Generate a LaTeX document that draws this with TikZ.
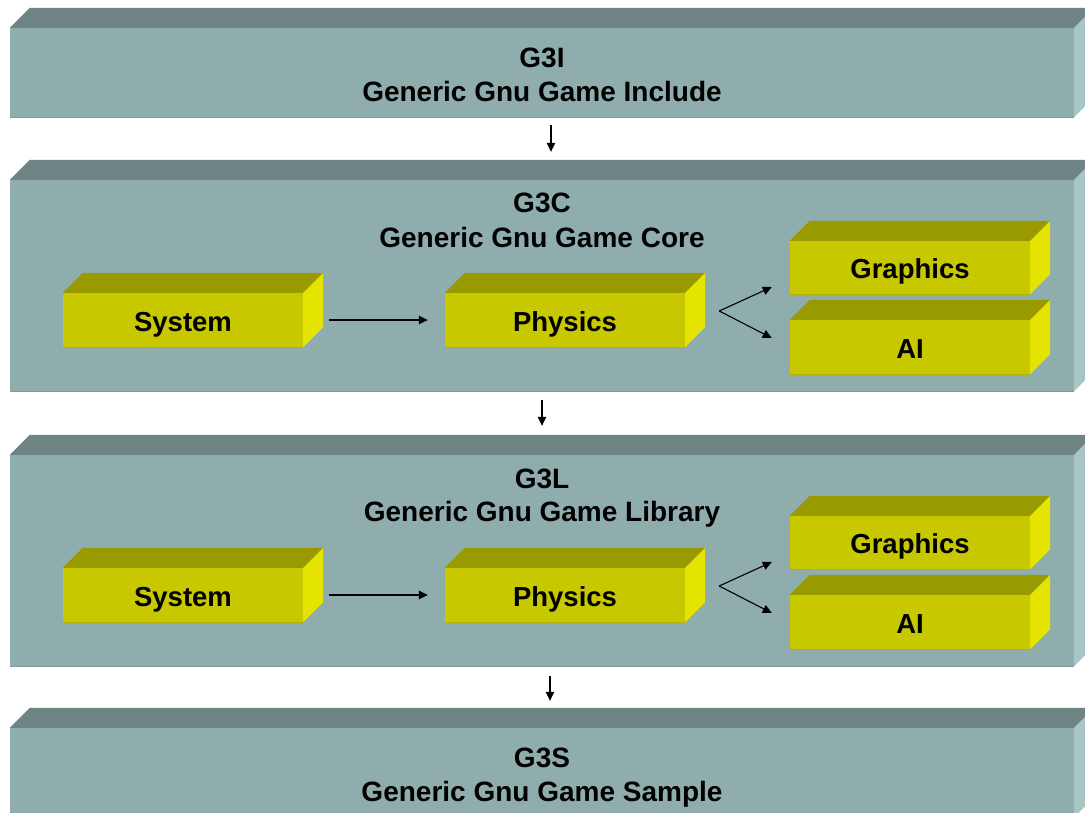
\documentclass[tikz,border=0pt]{standalone}
\usepackage{fontspec}
\setmainfont{Liberation Sans}
\usetikzlibrary{arrows.meta}

\definecolor{slateFront}{HTML}{8FADAD}
\definecolor{slateTop}{HTML}{6F8585}
\definecolor{slateSide}{HTML}{A8C6C6}
\definecolor{slateEdge}{HTML}{7E9A9A}
\definecolor{oliveFront}{HTML}{C8C800}
\definecolor{oliveTop}{HTML}{999900}
\definecolor{oliveSide}{HTML}{E4E400}
\definecolor{oliveEdge}{HTML}{B4B400}

\tikzset{
  layerface/.style={fill=slateFront, inner sep=0pt},
  modface/.style={fill=oliveFront, inner sep=0pt, font=\fontsize{27.5}{30}\selectfont\bfseries,
    text height=22.7pt, text depth=0pt},
  layertitle/.style={anchor=base, inner sep=0pt, font=\fontsize{28}{34}\selectfont\bfseries},
  arr/.style={line width=1.1pt, -{Triangle[length=9pt,width=8.5pt]}},
}

% front face as a named node, plus the top and right faces of the block
% #1 name, #2 centre, #3 width, #4 height, #5 style, #6 top colour, #7 side colour, #8 label
\newcommand\slab[8]{%
  \node[#5, minimum width=#3pt, minimum height=#4pt] (#1) at #2 {#8};
  \fill[#6] (#1.north west) -- ++(20pt,20pt) -- ([shift={(20pt,20pt)}]#1.north east)
            -- (#1.north east) -- cycle;
  \fill[#7] (#1.north east) -- ++(20pt,20pt) -- ([shift={(20pt,20pt)}]#1.south east)
            -- (#1.south east) -- cycle;
}

\begin{document}
\begin{tikzpicture}[x=1pt, y=-1pt]
\useasboundingbox (0,0) rectangle (1085,812);
\fill[white] (0,0) rectangle (1085,812);
\clip (0,0) rectangle (1085,812);

% ---- layer blocks ----
\slab{g3i}{(542,72.5)}{1064}{89}{layerface}{slateTop}{slateSide}{}
\slab{g3c}{(542,285.5)}{1064}{211}{layerface}{slateTop}{slateSide}{}
\slab{g3l}{(542,560.5)}{1064}{211}{layerface}{slateTop}{slateSide}{}
\slab{g3s}{(542,772.5)}{1064}{89}{layerface}{slateTop}{slateSide}{}
\foreach \n in {g3i,g3c,g3l,g3s}{
  \draw[slateEdge, line width=1pt] (\n.south west) -- (\n.south east);
}

% ---- layer titles ----
\node[layertitle] (t1a) at (542,67) {G3I};
\node[layertitle] (t1b) at (542,101) {Generic Gnu Game Include};
\node[layertitle] (t2a) at (542,212) {G3C};
\node[layertitle] (t2b) at (542,247) {Generic Gnu Game Core};
\node[layertitle] (t3a) at (542,488) {G3L};
\node[layertitle] (t3b) at (542,521) {Generic Gnu Game Library};
\node[layertitle] (t4a) at (542,767) {G3S};
\node[layertitle] (t4b) at (542,801) {Generic Gnu Game Sample};

% ---- modules of the core layer ----
\slab{sysC}{(183,320)}{240}{54}{modface}{oliveTop}{oliveSide}{System}
\slab{phyC}{(565,320)}{240}{54}{modface}{oliveTop}{oliveSide}{Physics}
\slab{gfxC}{(910,267.5)}{240}{53}{modface}{oliveTop}{oliveSide}{Graphics}
\slab{aiC}{(910,347)}{240}{54}{modface}{oliveTop}{oliveSide}{AI}

% ---- modules of the library layer ----
\slab{sysL}{(183,595)}{240}{54}{modface}{oliveTop}{oliveSide}{System}
\slab{phyL}{(565,595)}{240}{54}{modface}{oliveTop}{oliveSide}{Physics}
\slab{gfxL}{(910,542.5)}{240}{53}{modface}{oliveTop}{oliveSide}{Graphics}
\slab{aiL}{(910,622)}{240}{54}{modface}{oliveTop}{oliveSide}{AI}

\foreach \n in {sysC,phyC,gfxC,aiC,sysL,phyL,gfxL,aiL}{
  \draw[oliveEdge, line width=0.8pt] (\n.south west) -- (\n.south east);
}

% ---- dependencies between layers ----
\draw[arr] ([xshift=9pt,yshift=-8pt]g3i.south) -- ([xshift=9pt,yshift=28pt]g3c.north);
\draw[arr] ([xshift=0pt,yshift=-9pt]g3c.south) -- ([xshift=0pt,yshift=29pt]g3l.north);
\draw[arr] ([xshift=8pt,yshift=-10pt]g3l.south) -- ([xshift=8pt,yshift=27pt]g3s.north);

% ---- flow inside the core layer ----
\draw[arr] ([xshift=26pt]sysC.east) -- ([xshift=-17pt]phyC.west);
\coordinate (forkC) at ([xshift=34pt,yshift=9pt]phyC.east);
\draw[arr] (forkC) -- ([xshift=-18pt,yshift=-19.5pt]gfxC.west);
\draw[arr] (forkC) -- ([xshift=-18pt,yshift=9pt]aiC.west);

% ---- flow inside the library layer ----
\draw[arr] ([xshift=26pt]sysL.east) -- ([xshift=-17pt]phyL.west);
\coordinate (forkL) at ([xshift=34pt,yshift=9pt]phyL.east);
\draw[arr] (forkL) -- ([xshift=-18pt,yshift=-19.5pt]gfxL.west);
\draw[arr] (forkL) -- ([xshift=-18pt,yshift=9pt]aiL.west);
\end{tikzpicture}
\end{document}
